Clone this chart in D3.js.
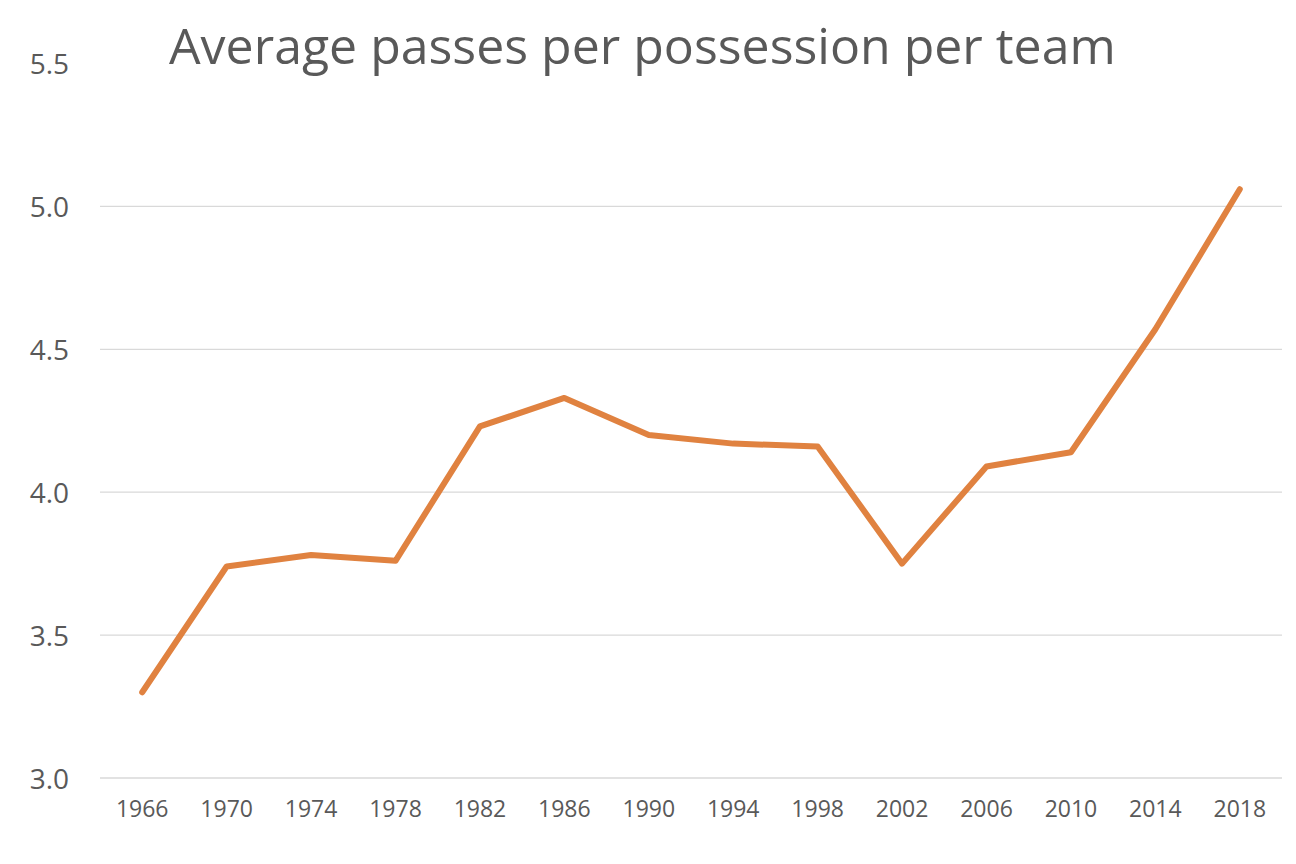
<!DOCTYPE html>
<html>
<head>
<meta charset="utf-8">
<script src="https://cdn.jsdelivr.net/npm/d3@7"></script>
<style>
  html, body { margin: 0; padding: 0; background: #fff; }
  svg { display: block; }
  text { font-family: "Open Sans", "Noto Sans", sans-serif; fill: #595959; }
</style>
</head>
<body>
<script>
// ---- data ----
const years = ["1966","1970","1974","1978","1982","1986","1990","1994","1998","2002","2006","2010","2014","2018"];
const passes = [3.30, 3.74, 3.78, 3.76, 4.23, 4.33, 4.20, 4.17, 4.16, 3.75, 4.09, 4.14, 4.57, 5.06];
const yTicks = [3.0, 3.5, 4.0, 4.5, 5.0, 5.5];
const gridTicks = [3.0, 3.5, 4.0, 4.5, 5.0];
const title = "Average passes per possession per team";

// ---- layout ----
const W = 1296, H = 864;
const svg = d3.select("body").append("svg").attr("width", W).attr("height", H);

const x = d3.scaleBand().domain(years).range([100, 1282]);
const y = d3.scaleLinear().domain([3, 5.5]).range([778, 63.5]);

// gridlines
svg.append("g").selectAll("line").data(gridTicks).join("line")
  .attr("x1", 100).attr("x2", 1282)
  .attr("y1", d => y(d)).attr("y2", d => y(d))
  .attr("stroke", "#d9d9d9").attr("stroke-width", 1.3);

// y axis labels
const yAxis = d3.axisLeft(y).tickValues(yTicks).tickFormat(d3.format(".1f")).tickSize(0).tickPadding(0);
const gy = svg.append("g").attr("transform", "translate(69,0)").call(yAxis);
gy.select(".domain").remove();
gy.selectAll("text").attr("font-size", 28).attr("fill", "#595959")
  .attr("font-family", "'Open Sans', sans-serif").attr("dy", "0.36em");

// x axis labels
const xAxis = d3.axisBottom(x).tickSize(0).tickPadding(0);
const gx = svg.append("g").attr("transform", "translate(0,796)").call(xAxis);
gx.select(".domain").remove();
gx.selectAll("text").attr("font-size", 23).attr("fill", "#595959")
  .attr("font-family", "'Open Sans', sans-serif").attr("dy", "0.9em")
  .attr("transform", function() { return null; });

// line
const line = d3.line()
  .x((d, i) => x(years[i]) + x.bandwidth() / 2)
  .y(d => y(d));
svg.append("path").datum(passes)
  .attr("d", line)
  .attr("fill", "none")
  .attr("stroke", "#E08240")
  .attr("stroke-width", 6)
  .attr("stroke-linejoin", "round")
  .attr("stroke-linecap", "round");

// title
const t = svg.append("text")
  .attr("x", 0).attr("y", 0)
  .attr("font-size", 50)
  .attr("fill", "#595959")
  .text(title);
const tw = t.node().getComputedTextLength();
const k = 947 / tw;
t.attr("transform", `translate(169,64) scale(${k},1)`);
</script>
</body>
</html>
